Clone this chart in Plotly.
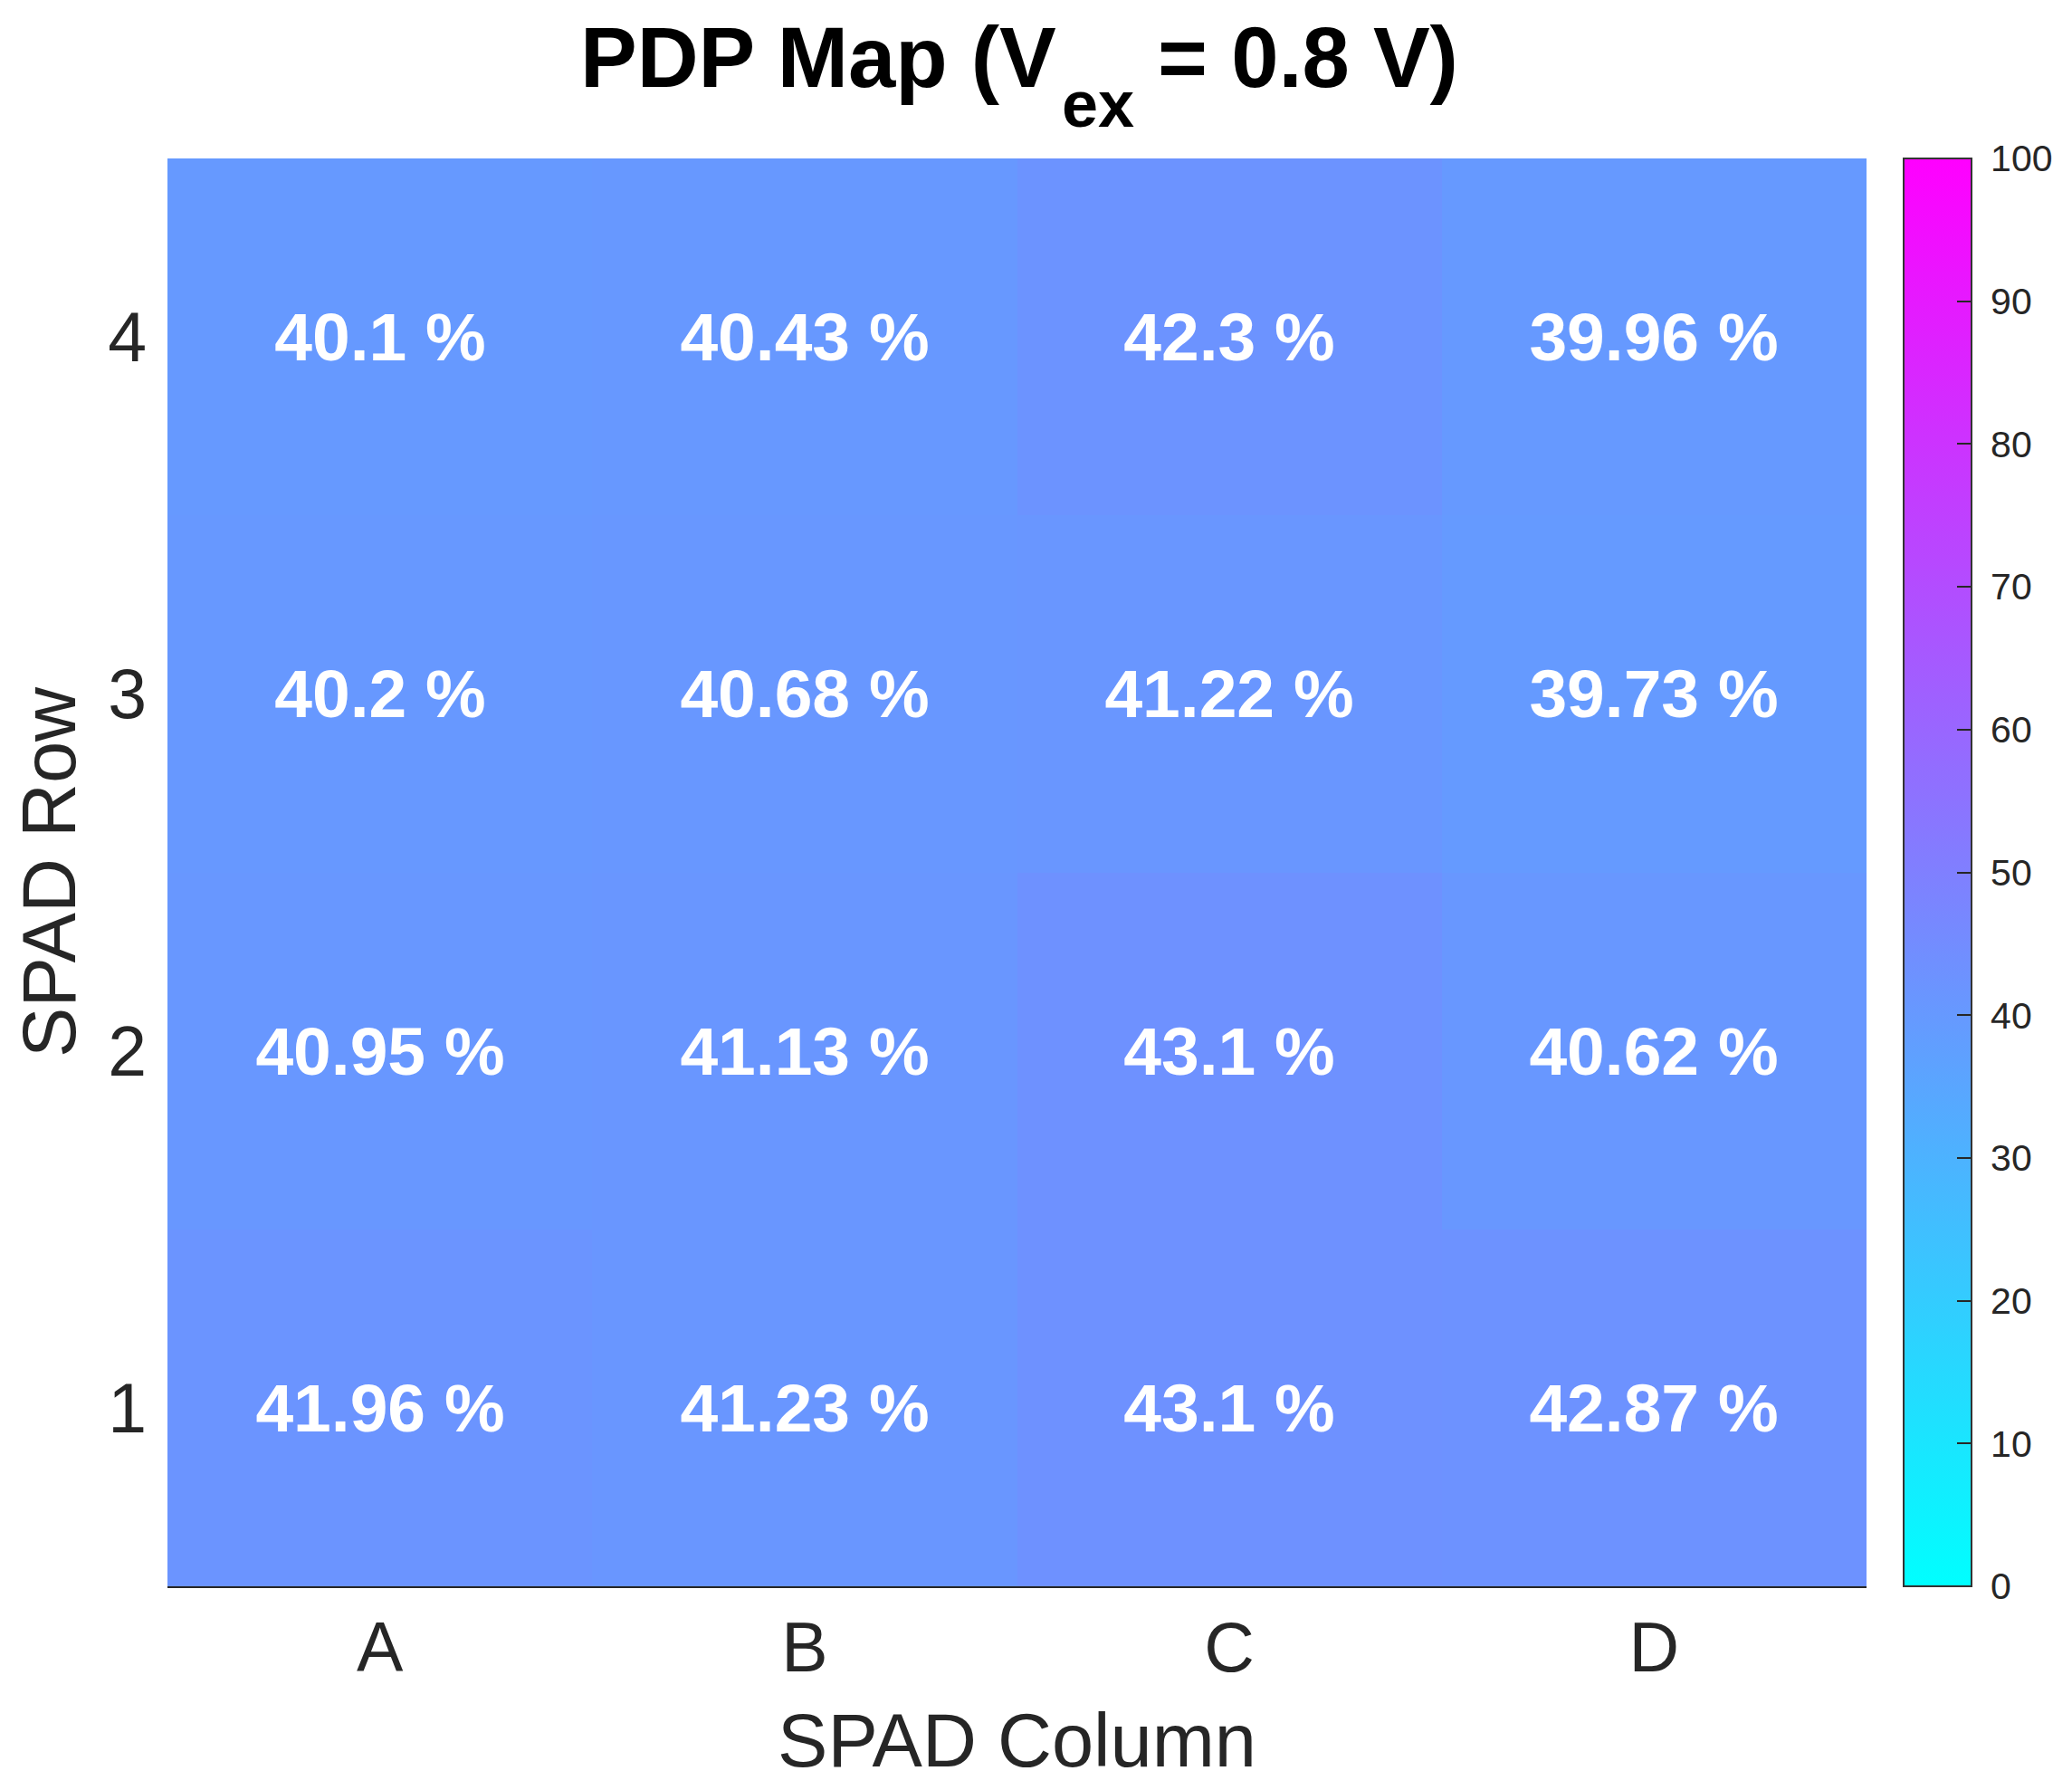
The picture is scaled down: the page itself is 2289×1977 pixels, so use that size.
import plotly.graph_objects as go

columns = ["A", "B", "C", "D"]
rows = [1, 2, 3, 4]
# PDP values (%) per row (row 1 at bottom), columns A..D
pdp_row1 = [41.96, 41.23, 43.1, 42.87]
pdp_row2 = [40.95, 41.13, 43.1, 40.62]
pdp_row3 = [40.2, 40.68, 41.22, 39.73]
pdp_row4 = [40.1, 40.43, 42.3, 39.96]
cbar_ticks = [0, 10, 20, 30, 40, 50, 60, 70, 80, 90, 100]
title_main = "PDP Map (V"
title_sub = "ex"
title_rest = " = 0.8 V)"

z = [pdp_row1, pdp_row2, pdp_row3, pdp_row4]
text = [[f"{v:g} %" for v in r] for r in z]

FONT = "Liberation Sans, Arial, Helvetica, sans-serif"
DARK = "#262626"

W, H = 2289, 1977
# figure-coordinate plot box (page adds ~8px body margin)
L, R, T, B = 177, 2055, 167, 1744
PW, PH = R - L, B - T


def px_x(px):
    return (px - L) / PW


def px_y(py):
    return (B - py) / PH


fig = go.Figure(go.Heatmap(
    x=columns, y=rows, z=z, text=text,
    texttemplate="%{text}",
    textfont=dict(family=FONT, size=75, color="white", weight="bold"),
    colorscale=[[0, "rgb(0,255,255)"], [1, "rgb(255,0,255)"]],
    zmin=0, zmax=100,
    colorbar=dict(
        x=(2095 - L) / PW, xanchor="left", xpad=0,
        y=0.5, yanchor="middle", len=1, lenmode="fraction", ypad=0,
        thickness=75, thicknessmode="pixels",
        outlinewidth=2, outlinecolor="#333333",
        ticks="inside", ticklen=17, tickwidth=2, tickcolor=DARK,
        tickvals=cbar_ticks, ticktext=["\u00a0" + str(t) for t in cbar_ticks],
        tickfont=dict(family=FONT, size=41, color=DARK),
    ),
    hoverongaps=False,
))

# title pieces: main text, large lowered subscript, rest
split_x = 1162
title_font = dict(family=FONT, size=94, color="black", weight="bold")
sub_font = dict(family=FONT, size=72, color="black", weight="bold")
fig.add_annotation(text=title_main, xref="paper", yref="paper",
                   x=px_x(split_x), y=px_y(55), xanchor="right", yanchor="middle",
                   showarrow=False, font=title_font)
fig.add_annotation(text=title_sub, xref="paper", yref="paper",
                   x=px_x(split_x + 2), y=px_y(107), xanchor="left", yanchor="middle",
                   showarrow=False, font=sub_font)
fig.add_annotation(text=title_rest, xref="paper", yref="paper",
                   x=px_x(split_x + 82), y=px_y(55), xanchor="left", yanchor="middle",
                   showarrow=False, font=title_font)

fig.update_layout(
    width=W, height=H,
    margin=dict(l=L, r=W - R, t=T, b=H - B, pad=0),
    paper_bgcolor="white", plot_bgcolor="white",
    font=dict(family=FONT, color=DARK),
    xaxis=dict(
        type="category", range=[-0.5, 3.5],
        showline=True, linecolor=DARK, linewidth=2, mirror=False,
        showgrid=False, zeroline=False, ticks="",
        tickfont=dict(family=FONT, size=77, color=DARK),
        ticklabelstandoff=0,
        title=dict(text="SPAD Column", font=dict(family=FONT, size=83, color=DARK), standoff=32),
    ),
    yaxis=dict(
        range=[0.5, 4.5], tickvals=rows, ticktext=[str(r) for r in rows],
        showline=False, showgrid=False, zeroline=False, ticks="",
        tickfont=dict(family=FONT, size=77, color=DARK),
        ticklabelstandoff=22,
        title=dict(text="SPAD Row", font=dict(family=FONT, size=83, color=DARK), standoff=10),
    ),
)

fig.write_html("out.html")
